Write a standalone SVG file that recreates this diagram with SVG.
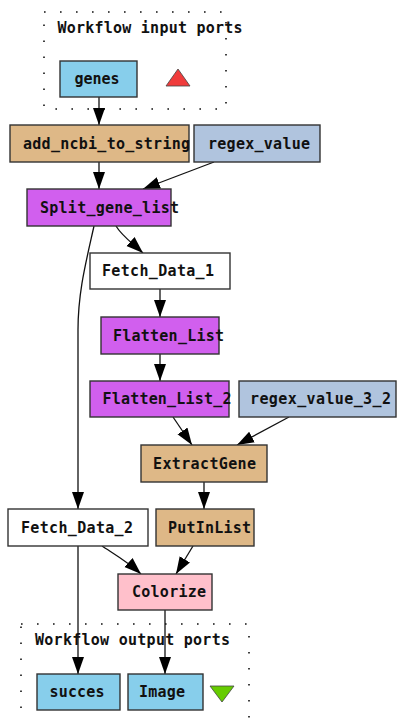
<svg xmlns="http://www.w3.org/2000/svg" width="397" height="722" viewBox="0 0 397 722">
<style>
.n rect{stroke:#333;stroke-width:1.4}
.t{font-family:"DejaVu Sans Mono","Liberation Mono",monospace;font-weight:bold;font-size:15px;fill:#111}
.cl{fill:none;stroke:#111;stroke-width:1.6;stroke-dasharray:1.6 14.4}
.e path{fill:none;stroke:#111;stroke-width:1.3;marker-end:url(#ah)}
.port{fill:#87ceeb}
.bean{fill:#deb887}
.str{fill:#b0c4de}
.loc{fill:#d15fee}
.wsf{fill:#ffffff}
.nest{fill:#ffc0cb}
</style>
<defs>
<marker id="ah" markerUnits="userSpaceOnUse" markerWidth="18" markerHeight="13" refX="17" refY="6" orient="auto" viewBox="0 0 18 12">
<path d="M0,0 L17,6 L0,12 z" fill="#000"/>
</marker>
</defs>
<rect width="397" height="722" fill="#fff"/>
<g id="cluster_inputs">
<rect class="cl" x="44" y="12" width="182" height="97"/>
<text class="t" x="57.5" y="33" textLength="185">Workflow input ports</text>
<polygon points="166,86 178,69 190,86" fill="#f03c3c" stroke="#444" stroke-width="0.8"/>
</g>
<g id="cluster_outputs">
<rect class="cl" x="21" y="624" width="228" height="110"/>
<text class="t" x="35" y="645" textLength="195">Workflow output ports</text>
<polygon points="210,686 234,686 222,702" fill="#66cc00" stroke="#444" stroke-width="0.8"/>
</g>
<g id="edges" class="e">
<path d="M99,97 L99,125"/>
<path d="M99,162 L99,189"/>
<path d="M214,162 L143,189"/>
<path d="M116,226 C122,236 130,241 143,253"/>
<path d="M94,226 C86,262 78,292 78,330 L78,509"/>
<path d="M160,289 L160,317"/>
<path d="M160,354 L160,381"/>
<path d="M173,417 L192,445"/>
<path d="M289,417 L237,445"/>
<path d="M204,482 L204,509"/>
<path d="M102,546 C114,554 128,562 141,574"/>
<path d="M193,546 L176,574"/>
<path d="M78,546 L78,674"/>
<path d="M165,610 L165,674"/>
</g>
<g id="genes" class="n"><rect class="port" x="60" y="61" width="77" height="36"/><text class="t" x="74.5" y="84" textLength="45">genes</text></g>
<g id="add_ncbi_to_string" class="n"><rect class="bean" x="10" y="125" width="179" height="37"/><text class="t" x="23" y="148.5" textLength="167">add_ncbi_to_string</text></g>
<g id="regex_value" class="n"><rect class="str" x="194" y="125" width="126" height="37"/><text class="t" x="208" y="148.5" textLength="102">regex_value</text></g>
<g id="Split_gene_list" class="n"><rect class="loc" x="27" y="189" width="144" height="37"/><text class="t" x="40" y="212.5" textLength="139">Split_gene_list</text></g>
<g id="Fetch_Data_1" class="n"><rect class="wsf" x="90" y="253" width="140" height="36"/><text class="t" x="102" y="276" textLength="112">Fetch_Data_1</text></g>
<g id="Flatten_List" class="n"><rect class="loc" x="101" y="317" width="118" height="37"/><text class="t" x="113" y="340.5" textLength="111">Flatten_List</text></g>
<g id="Flatten_List_2" class="n"><rect class="loc" x="90" y="381" width="139" height="36"/><text class="t" x="102.5" y="404" textLength="129">Flatten_List_2</text></g>
<g id="regex_value_3_2" class="n"><rect class="str" x="239" y="381" width="157" height="36"/><text class="t" x="250" y="404" textLength="141">regex_value_3_2</text></g>
<g id="ExtractGene" class="n"><rect class="bean" x="141" y="445" width="126" height="37"/><text class="t" x="153" y="468.5" textLength="103">ExtractGene</text></g>
<g id="Fetch_Data_2" class="n"><rect class="wsf" x="8" y="509" width="140" height="37"/><text class="t" x="21" y="532.5" textLength="112">Fetch_Data_2</text></g>
<g id="PutInList" class="n"><rect class="bean" x="156" y="509" width="98" height="37"/><text class="t" x="168" y="532.5" textLength="83">PutInList</text></g>
<g id="Colorize" class="n"><rect class="nest" x="118" y="574" width="94" height="36"/><text class="t" x="132" y="597" textLength="74">Colorize</text></g>
<g id="succes" class="n"><rect class="port" x="37" y="674" width="83" height="36"/><text class="t" x="49.5" y="697" textLength="55">succes</text></g>
<g id="Image" class="n"><rect class="port" x="128" y="674" width="75" height="36"/><text class="t" x="139" y="697" textLength="46">Image</text></g>
</svg>
